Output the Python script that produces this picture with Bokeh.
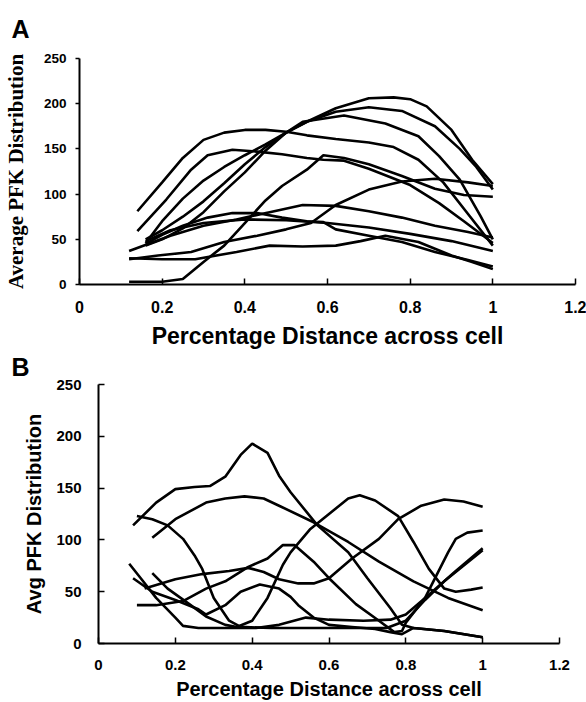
import math
from bokeh.plotting import figure
from bokeh.models import Range1d, FixedTicker, Title
from bokeh.embed import file_html
from bokeh.resources import INLINE

# ---------------- data ----------------
X_TICKS = [0, 0.2, 0.4, 0.6, 0.8, 1.0, 1.2]
X_TICK_LABELS = ["0", "0.2", "0.4", "0.6", "0.8", "1", "1.2"]
Y_TICKS = [0, 50, 100, 150, 200, 250]
Y_TICK_LABELS = ["0", "50", "100", "150", "200", "250"]

# Panel A curves
A1_X = [0.14, 0.2, 0.25, 0.3, 0.35, 0.4, 0.45, 0.5, 0.55, 0.62, 0.7, 0.76, 0.82, 0.88, 0.94, 1.0]
A1_Y = [81, 113, 140, 160, 168, 171, 171, 169, 165, 161, 157, 152, 138, 113, 78, 43]
A2_X = [0.14, 0.21, 0.27, 0.31, 0.37, 0.43, 0.49, 0.55, 0.59, 0.64, 0.7, 0.8, 0.87, 0.93, 1.0]
A2_Y = [59, 94, 127, 143, 149, 147, 144, 140, 138, 137, 128, 110, 90, 70, 46]
A3_X = [0.16, 0.2, 0.25, 0.3, 0.35, 0.4, 0.45, 0.5, 0.55, 0.62, 0.7, 0.76, 0.8, 0.84, 0.9, 0.95, 1.0]
A3_Y = [50, 60, 75, 92, 112, 133, 152, 168, 180, 195, 206, 207, 205, 197, 171, 138, 111]
A4_X = [0.16, 0.2, 0.25, 0.3, 0.35, 0.4, 0.45, 0.5, 0.55, 0.62, 0.7, 0.78, 0.86, 0.92, 0.96, 1.0]
A4_Y = [46, 70, 95, 115, 130, 143, 155, 168, 180, 191, 196, 192, 175, 150, 130, 105]
A5_X = [0.16, 0.2, 0.25, 0.3, 0.35, 0.4, 0.45, 0.5, 0.54, 0.64, 0.74, 0.82, 0.87, 0.92, 0.97, 1.0]
A5_Y = [43, 50, 62, 80, 103, 124, 148, 168, 180, 187, 178, 164, 142, 116, 76, 50]
A6_X = [0.12, 0.2, 0.25, 0.3, 0.35, 0.4, 0.45, 0.49, 0.55, 0.59, 0.64, 0.7, 0.78, 0.86, 0.93, 1.0]
A6_Y = [3, 3, 6, 25, 43, 68, 93, 109, 127, 143, 140, 133, 120, 106, 99, 97]
A7_X = [0.12, 0.22, 0.3, 0.38, 0.46, 0.54, 0.62, 0.7, 0.78, 0.86, 0.94, 1.0]
A7_Y = [37, 54, 65, 72, 80, 88, 87, 81, 74, 65, 58, 52]
A8_X = [0.16, 0.2, 0.25, 0.31, 0.37, 0.43, 0.49, 0.55, 0.59, 0.62, 0.7, 0.78, 0.86, 0.94, 1.0]
A8_Y = [45, 55, 65, 74, 79, 79, 74, 70, 69, 61, 54, 47, 36, 27, 20]
A9_X = [0.12, 0.19, 0.27, 0.35, 0.43, 0.5, 0.56, 0.62, 0.7, 0.78, 0.86, 0.94, 1.0]
A9_Y = [28, 32, 36, 47, 54, 61, 68, 88, 105, 114, 117, 113, 109]
A10_X = [0.12, 0.2, 0.28, 0.38, 0.46, 0.54, 0.62, 0.68, 0.74, 0.82, 0.9, 0.95, 1.0]
A10_Y = [29, 28, 28, 36, 43, 42, 43, 48, 54, 47, 32, 25, 17]
A11_X = [0.16, 0.22, 0.3, 0.4, 0.5, 0.6, 0.7, 0.8, 0.9, 1.0]
A11_Y = [48, 60, 68, 72, 71, 68, 63, 56, 48, 37]

# Panel B curves
B1_X = [0.09, 0.15, 0.2, 0.25, 0.29, 0.33, 0.37, 0.4, 0.44, 0.47, 0.5, 0.57, 0.65, 0.7, 0.76, 0.79, 0.82, 0.9, 1.0]
B1_Y = [114, 136, 149, 151, 152, 161, 182, 193, 184, 162, 146, 114, 88, 63, 34, 18, 15, 12, 6]
B2_X = [0.14, 0.2, 0.28, 0.33, 0.38, 0.43, 0.47, 0.56, 0.65, 0.73, 0.82, 0.91, 1.0]
B2_Y = [102, 120, 136, 140, 142, 140, 133, 117, 98, 79, 60, 44, 32]
B3_X = [0.1, 0.14, 0.18, 0.22, 0.25, 0.27, 0.3, 0.34, 0.37, 0.45, 0.55, 0.65, 0.75, 0.8, 0.85, 0.9, 0.95, 1.0]
B3_Y = [123, 120, 114, 101, 85, 72, 44, 22, 16, 15, 15, 15, 15, 22, 42, 60, 75, 90]
B4_X = [0.14, 0.18, 0.24, 0.28, 0.33, 0.36, 0.4, 0.44, 0.48, 0.5, 0.55, 0.6, 0.65, 0.68, 0.72, 0.78, 0.82, 0.86, 0.9, 0.93, 0.97, 1.0]
B4_Y = [68, 53, 37, 26, 18, 16, 22, 44, 76, 88, 110, 125, 140, 143, 138, 123, 98, 72, 53, 50, 52, 54]
B5_X = [0.12, 0.2, 0.27, 0.34, 0.39, 0.43, 0.47, 0.52, 0.56, 0.6, 0.66, 0.73, 0.78, 0.84, 0.9, 0.95, 1.0]
B5_Y = [53, 62, 67, 70, 73, 69, 62, 58, 58, 63, 82, 101, 120, 133, 139, 137, 132]
B6_X = [0.1, 0.15, 0.22, 0.28, 0.33, 0.39, 0.44, 0.48, 0.51, 0.56, 0.6, 0.67, 0.73, 0.77, 0.79, 0.8, 0.85, 0.88, 0.91, 0.93, 0.96, 1.0]
B6_Y = [37, 37, 41, 53, 60, 74, 82, 95, 95, 79, 63, 38, 22, 11, 12, 20, 44, 66, 88, 101, 107, 109]
B7_X = [0.08, 0.11, 0.15, 0.2, 0.22, 0.26, 0.33, 0.41, 0.47, 0.54, 0.6, 0.69, 0.76, 0.8, 0.86, 0.93, 1.0]
B7_Y = [77, 63, 44, 25, 17, 15, 15, 15, 18, 25, 23, 22, 23, 28, 47, 70, 92]
B8_X = [0.09, 0.14, 0.2, 0.26, 0.28, 0.33, 0.37, 0.42, 0.47, 0.5, 0.52, 0.56, 0.6, 0.66, 0.72, 0.76, 0.79, 0.82, 0.9, 1.0]
B8_Y = [63, 50, 42, 33, 28, 37, 50, 57, 53, 45, 37, 25, 18, 16, 14, 11, 9, 15, 12, 6]

A_CURVES = [(A1_X, A1_Y), (A2_X, A2_Y), (A3_X, A3_Y), (A4_X, A4_Y), (A5_X, A5_Y), (A6_X, A6_Y),
            (A7_X, A7_Y), (A8_X, A8_Y), (A9_X, A9_Y), (A10_X, A10_Y), (A11_X, A11_Y)]
B_CURVES = [(B1_X, B1_Y), (B2_X, B2_Y), (B3_X, B3_Y), (B4_X, B4_Y), (B5_X, B5_Y), (B6_X, B6_Y),
            (B7_X, B7_Y), (B8_X, B8_Y)]

SANS = "Liberation Sans"
SERIF = "Liberation Serif"


def style(p, xtick_size, ytick_size, ytick_in, ytick_out):
    p.xgrid.visible = False
    p.ygrid.visible = False
    p.outline_line_color = None
    p.background_fill_color = "white"
    p.border_fill_color = "white"
    for ax in (p.xaxis[0], p.yaxis[0]):
        ax.axis_line_color = "black"
        ax.axis_line_width = 2
        ax.major_tick_line_color = "black"
        ax.major_tick_line_width = 1.5
        ax.minor_tick_line_color = None
        ax.major_label_text_font = SANS
        ax.major_label_text_font_style = "bold"
        ax.major_label_text_color = "black"
        ax.axis_label_text_font = SANS
        ax.axis_label_text_font_style = "bold"
        ax.axis_label_text_color = "black"
    p.xaxis[0].ticker = FixedTicker(ticks=X_TICKS)
    p.xaxis[0].major_label_overrides = {t: l for t, l in zip(X_TICKS, X_TICK_LABELS)}
    p.yaxis[0].ticker = FixedTicker(ticks=Y_TICKS)
    p.yaxis[0].major_label_overrides = {t: l for t, l in zip(Y_TICKS, Y_TICK_LABELS)}
    p.xaxis[0].major_tick_in = 6
    p.xaxis[0].major_tick_out = 0
    p.yaxis[0].major_tick_in = ytick_in
    p.yaxis[0].major_tick_out = ytick_out
    p.xaxis[0].major_label_text_font_size = xtick_size
    p.yaxis[0].major_label_text_font_size = ytick_size


def panel_letter(text, offset, standoff):
    return Title(text=text, align="left", offset=offset, standoff=standoff,
                 vertical_align="top", text_line_height=1.0,
                 text_font=SANS, text_font_style="bold", text_font_size="25px",
                 text_color="black")


# ---------------- panel A ----------------
pa = figure(width=586, height=351, output_backend="svg", toolbar_location=None,
            x_range=Range1d(0, 1.2), y_range=Range1d(0, 250),
            min_border_left=76, min_border_right=11, min_border_top=58, min_border_bottom=65)
style(pa, "16px", "13.5px", 0, 4)
pa.title = panel_letter("A", -68, 27)
pa.xaxis[0].major_label_standoff = 16
pa.yaxis[0].major_label_standoff = 9
pa.xaxis[0].axis_label = "Percentage Distance across cell"
pa.xaxis[0].axis_label_text_font_size = "23px"
pa.xaxis[0].axis_label_standoff = 7
pa.yaxis[0].axis_label = "Average PFK Distribution"
pa.yaxis[0].axis_label_text_font = SERIF
pa.yaxis[0].axis_label_text_font_size = "21px"
pa.yaxis[0].axis_label_standoff = 13
for xs, ys in A_CURVES:
    pa.line(xs, ys, line_color="black", line_width=2.6)

# ---------------- panel B ----------------
pb = figure(width=586, height=351, output_backend="svg", toolbar_location=None,
            x_range=Range1d(0, 1.2), y_range=Range1d(0, 250),
            min_border_left=98, min_border_right=27, min_border_top=33, min_border_bottom=56)
style(pb, "15px", "15px", 6, 0)
pb.title = panel_letter("B", -87, 3)
pb.xaxis[0].major_label_standoff = 16
pb.yaxis[0].major_label_standoff = 17
pb.xaxis[0].axis_label = "Percentage Distance across cell"
pb.xaxis[0].axis_label_text_font_size = "20px"
pb.xaxis[0].axis_label_standoff = 5
pb.yaxis[0].axis_label = "Avg PFK Distribution"
pb.yaxis[0].axis_label_text_font_size = "20px"
pb.yaxis[0].axis_label_standoff = 8
for xs, ys in B_CURVES:
    pb.line(xs, ys, line_color="black", line_width=2.6)

open("out.html", "w").write(file_html([pa, pb], INLINE))
